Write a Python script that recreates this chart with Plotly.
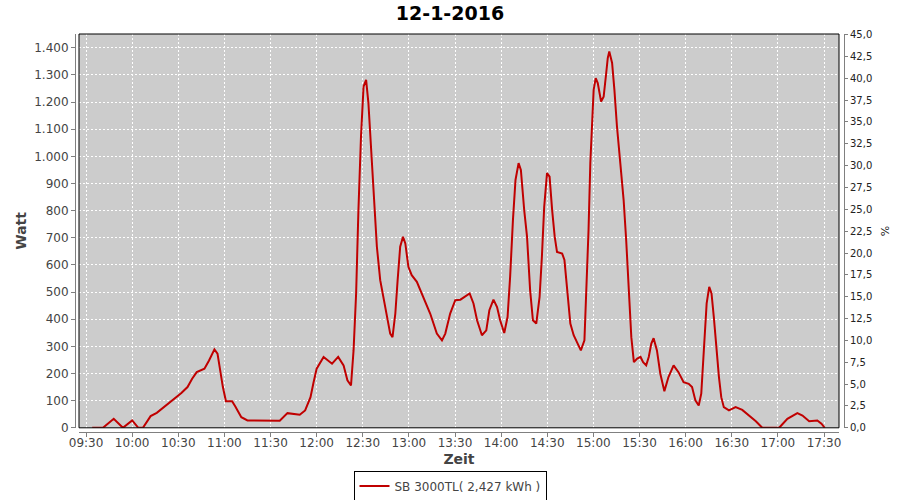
import plotly.graph_objects as go

DATE = "2016-01-12 "

times = [
    "09:34:00", "09:41:00", "09:48:00", "09:54:00", "10:00:00", "10:04:00", "10:07:00",
    "10:12:00", "10:16:00", "10:22:00", "10:29:00", "10:32:00", "10:36:00", "10:39:00",
    "10:42:00", "10:47:00", "10:50:00", "10:53:30", "10:55:30", "10:57:10", "10:59:00",
    "11:01:00", "11:05:00", "11:07:00", "11:11:00", "11:15:00", "11:20:00", "11:25:00",
    "11:30:00", "11:36:00", "11:41:00", "11:49:00", "11:52:30", "11:56:00", "11:58:00",
    "12:00:00", "12:04:30", "12:10:00", "12:14:00", "12:17:30", "12:20:00", "12:22:20",
    "12:24:00", "12:25:40", "12:27:10", "12:28:50", "12:30:30", "12:32:10", "12:33:40",
    "12:35:30", "12:37:20", "12:39:10", "12:41:20", "12:43:30", "12:45:40", "12:47:50",
    "12:49:20", "12:51:10", "12:52:40", "12:54:20", "12:56:10", "12:57:40", "12:59:40",
    "13:01:50", "13:05:10", "13:09:30", "13:13:50", "13:18:10", "13:21:30", "13:23:40",
    "13:26:50", "13:30:10", "13:33:30", "13:39:30", "13:42:00", "13:44:20", "13:47:30",
    "13:50:20", "13:52:20", "13:55:00", "13:57:20", "13:59:20", "14:02:00", "14:04:10",
    "14:05:50", "14:07:40", "14:09:20", "14:11:20", "14:12:50", "14:15:00", "14:16:50",
    "14:18:50", "14:20:40", "14:22:50", "14:25:00", "14:26:30", "14:28:00", "14:29:50",
    "14:31:30", "14:33:10", "14:34:50", "14:36:20", "14:39:40", "14:41:10", "14:42:50",
    "14:45:00", "14:47:10", "14:49:20", "14:51:50", "14:54:10", "14:55:20", "14:56:50",
    "14:58:00", "14:59:20", "15:00:10", "15:01:30", "15:02:50", "15:05:00", "15:06:40",
    "15:08:20", "15:09:20", "15:10:20", "15:12:10", "15:13:40", "15:15:20", "15:17:30",
    "15:19:40", "15:21:20", "15:23:00", "15:24:40", "15:26:20", "15:28:30", "15:30:40",
    "15:32:20", "15:34:20", "15:36:00", "15:37:40", "15:39:10", "15:41:20", "15:43:30",
    "15:46:10", "15:48:50", "15:52:10", "15:55:20", "15:58:40", "16:02:00", "16:04:10",
    "16:06:20", "16:08:30", "16:10:10", "16:11:50", "16:13:40", "16:15:20", "16:16:50",
    "16:18:20", "16:20:10", "16:21:40", "16:23:10", "16:24:50", "16:28:10", "16:32:30",
    "16:36:50", "16:41:10", "16:45:40", "16:49:50", "17:00:50", "17:06:10", "17:12:40",
    "17:16:00", "17:20:20", "17:25:40", "17:28:20", "17:30:30",
]

watt = [
    0, 0, 33, 0, 27, 0, 0,
    43, 55, 82, 117, 128, 150, 181,
    205, 218, 248, 289, 273, 211, 150,
    98, 98, 79, 39, 27, 27, 25,
    27, 26, 54, 48, 64, 113, 168,
    218, 261, 236, 261, 230, 175, 156,
    285, 495, 802, 1073, 1257, 1282, 1196,
    1011, 839, 667, 544, 482, 408, 347,
    334, 421, 544, 667, 704, 679, 593,
    562, 538, 482, 421, 347, 322, 347,
    421, 470, 472, 495, 458, 396, 341,
    359, 433, 472, 445, 396, 349, 408,
    556, 765, 913, 975, 950, 802, 704,
    507, 396, 384, 482, 630, 814, 938,
    925, 802, 704, 648, 642, 618, 507,
    384, 341, 316, 285, 322, 482, 728,
    975, 1159, 1245, 1288, 1270, 1202, 1220,
    1307, 1362, 1386, 1344, 1245, 1110, 975,
    839, 691, 507, 334, 242, 255, 261,
    242, 230, 261, 310, 330, 285, 200,
    135, 187, 230, 205, 168, 162, 150,
    101, 82, 126, 285, 458, 519, 495,
    408, 273, 187, 113, 76, 64, 76,
    66, 45, 24, 0, 0, 33, 54,
    45, 24, 27, 15, 0,
]

watt_ticks = list(range(0, 1500, 100))
watt_labels = [f"{v:,}".replace(",", ".") for v in watt_ticks]
pct_ticks = [i * 2.5 for i in range(19)]
pct_labels = [f"{v:.1f}".replace(".", ",") for v in pct_ticks]

series_name = "SB 3000TL( 2,427 kWh )"
title_text = "12-1-2016"

x = [DATE + t for t in times]

fig = go.Figure()
fig.add_trace(go.Scatter(
    x=x, y=watt, mode="lines", name=series_name,
    line=dict(color="#c00000", width=2), hoverinfo="x+y",
))
fig.add_trace(go.Scatter(
    x=[x[0]], y=[0], yaxis="y2", mode="lines", showlegend=False,
    line=dict(color="rgba(0,0,0,0)"), hoverinfo="skip",
))

W, H = 900, 500
ml, mr, mt, mb = 75, 56, 34, 68
pw, ph = W - ml - mr, H - mt - mb

xd0 = (79 - ml) / pw
xd1 = (839 - ml) / pw
yd0 = (431.5 - 427.3) / ph

grid = dict(showgrid=True, gridcolor="white", gridwidth=1, griddash="2px,2px")
fontfam = "DejaVu Sans"

fig.update_layout(
    width=W, height=H,
    margin=dict(l=ml, r=mr, t=mt, b=mb, autoexpand=False),
    paper_bgcolor="white", plot_bgcolor="#cccccc",
    font=dict(family=fontfam, size=12, color="#444444"),
    title=dict(text=f"<b>{title_text}</b>", x=0.5, xanchor="center", xref="container",
               y=1 - 13 / H, yanchor="middle", yref="container",
               font=dict(size=19, color="black", family=fontfam)),
    xaxis=dict(
        type="date", domain=[xd0, xd1], anchor="free", position=0, automargin=False,
        range=[DATE + "09:25:25", DATE + "17:39:45"],
        tick0=DATE + "09:30", dtick=1800000, tickformat="%H:%M",
        ticks="outside", ticklen=4, tickcolor="#808080", ticklabelstandoff=-4,
        showline=True, linecolor="#808080", linewidth=1,
        tickfont=dict(size=12, color="#444444"),
        title=dict(text="<b>Zeit</b>", font=dict(size=14, color="#444444"), standoff=4),
        zeroline=False, **grid,
    ),
    yaxis=dict(
        domain=[yd0, 1], anchor="free", position=0, automargin=False,
        range=[0, 1450.7],
        tickvals=watt_ticks, ticktext=watt_labels,
        ticks="outside", ticklen=4, tickcolor="#808080",
        showline=True, linecolor="#808080", linewidth=1,
        tickfont=dict(size=12, color="#444444"),
        title=dict(text="<b>Watt</b>", font=dict(size=14, color="#444444"), standoff=3),
        zeroline=False, **grid,
    ),
    yaxis2=dict(
        overlaying="y", side="right", anchor="free", position=1, automargin=False,
        range=[0, 45.07],
        tickvals=pct_ticks, ticktext=pct_labels,
        ticks="outside", ticklen=3, tickcolor="#808080",
        showline=True, linecolor="#808080", linewidth=1,
        tickfont=dict(size=10, color="#222222"),
        title=dict(text="%", font=dict(size=11, color="#222222"), standoff=10),
        showgrid=False, zeroline=False,
    ),
    showlegend=True,
    legend=dict(
        orientation="h", x=(450 - ml) / pw, xanchor="center",
        y=(431.5 - 470) / ph, yanchor="top",
        bordercolor="black", borderwidth=1, bgcolor="white",
        font=dict(size=12, color="#444444"), itemwidth=30,
    ),
    shapes=[dict(type="rect", xref="x domain", yref="y domain", x0=0, x1=1, y0=0, y1=1,
                 line=dict(color="black", width=1), fillcolor="rgba(0,0,0,0)", layer="above")],
)

fig.write_html("out.html", post_script="document.body.style.margin='0px';",
               config={"displayModeBar": False})
